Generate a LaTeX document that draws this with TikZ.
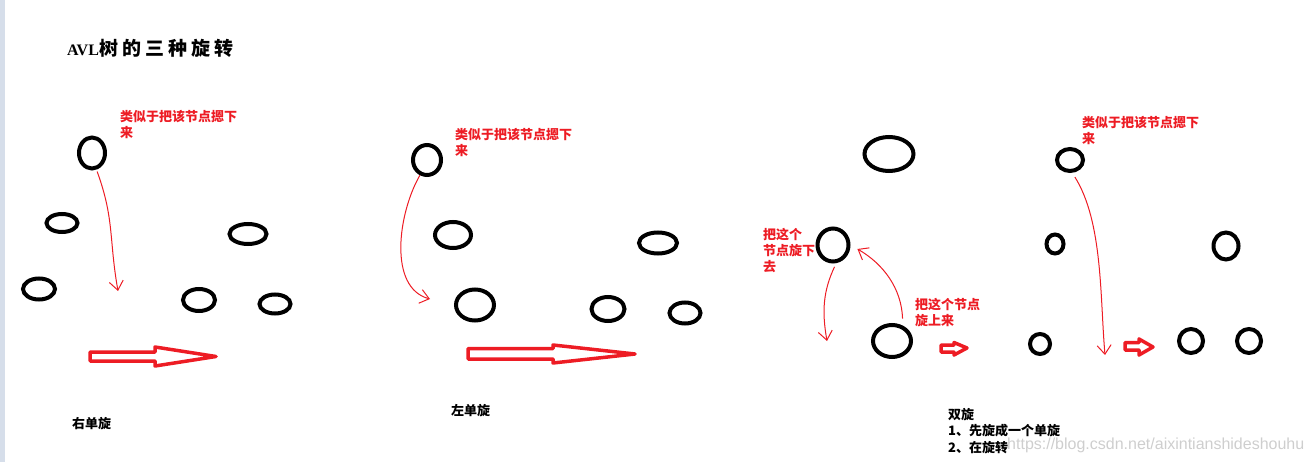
\documentclass[tikz,border=0pt]{standalone}
\usepackage{fontspec}
\setmainfont{Liberation Serif}
\newfontfamily\cjk{Noto Sans CJK SC}
\newfontfamily\urlfont{Liberation Sans}
\usepackage{xcolor}
\definecolor{paintred}{RGB}{237,28,36}
\definecolor{stripgrey}{RGB}{214,222,234}
\definecolor{markgrey}{RGB}{206,206,206}
\usepackage{tikz}
\usetikzlibrary{arrows.meta,shapes.geometric}

\begin{document}
\begin{tikzpicture}
[	x=1pt, y=-1pt,
	treenode/.style={draw, ellipse, line width=4pt, inner sep=0pt},
	redline/.style={draw=paintred, line width=1pt, -{Straight Barb[length=9pt,width=14pt]}},
	hollowarrow/.style={draw=paintred, line width=3.5pt, line join=round},
	redtext/.style={text=paintred, font=\cjk\bfseries\fontsize{13}{16}\selectfont, align=left, inner sep=0pt, anchor=north west},
	blacktext/.style={font=\cjk\bfseries\fontsize{13}{16.5}\selectfont, align=left, inner sep=0pt, anchor=north west}
]
\useasboundingbox (0,0) rectangle (1311,462);
\fill[stripgrey] (0,0) rectangle (5,462);

% title
\node(title)[anchor=base west, inner sep=0pt] at (67,56){\fontsize{16}{18}\selectfont\bfseries AVL\kern1pt{\cjk\fontsize{19}{21}\selectfont 树\kern4pt 的\kern4pt 三\kern4pt 种\kern4pt 旋\kern4pt 转}};

% right rotation, before
\node(a1)[treenode, minimum width=26pt, minimum height=31pt] at (92,153){};
\node(a2)[treenode, minimum width=31pt, minimum height=18pt] at (62,223){};
\node(a3)[treenode, minimum width=32pt, minimum height=21pt] at (39,289){};
% right rotation, after
\node(b1)[treenode, minimum width=37pt, minimum height=20pt] at (248,234){};
\node(b2)[treenode, minimum width=32pt, minimum height=22pt] at (199,300){};
\node(b3)[treenode, minimum width=31pt, minimum height=19pt] at (275,304){};

\coordinate(k1) at (118,291);
\node(t1)[redtext] at (120,110){类似于把该节点摁下\\来};
\draw[redline, shorten <=2pt] (a1.-75) to[out=-70,in=100,looseness=1.1] (k1);

\draw[hollowarrow] (90,352) -- (155,352) -- (155,347) -- (216,356.5) -- (155,366) -- (155,361) -- (90,361) -- cycle;
\node(l1)[blacktext] at (72,417){右单旋};

% left rotation, before
\node(c1)[treenode, minimum width=28pt, minimum height=30pt] at (427,160){};
\node(c2)[treenode, minimum width=36pt, minimum height=26pt] at (453,235){};
\node(c3)[treenode, minimum width=38pt, minimum height=31pt] at (475,305){};
% left rotation, after
\node(d1)[treenode, minimum width=38pt, minimum height=21pt] at (658,243){};
\node(d2)[treenode, minimum width=33pt, minimum height=24pt] at (608,309){};
\node(d3)[treenode, minimum width=31pt, minimum height=21pt] at (685,313){};

\coordinate(k2) at (430,299);
\node(t2)[redtext] at (455,128){类似于把该节点摁下\\来};
\draw[redline] (c1.-115) to[out=-120,in=165,looseness=0.9] (k2);

\draw[hollowarrow] (468,348.5) -- (553,348.5) -- (553,345) -- (635,354) -- (553,363) -- (553,359) -- (468,359) -- cycle;
\node(l2)[blacktext] at (451,404){左单旋};

% double rotation, first step
\node(e1)[treenode, minimum width=49pt, minimum height=34pt] at (889,154){};
\node(e2)[treenode, minimum width=31pt, minimum height=33pt] at (833,245){};
\node(e3)[treenode, minimum width=38pt, minimum height=32pt] at (892,341){};

\coordinate(k3) at (827,341);
\node(t3)[redtext] at (763,228){把这个\\节点旋下\\去};
\node(t4)[redtext] at (915,298){把这个节点\\旋上来};
\draw[redline, shorten <=4pt] (e2.-80) to[out=-115,in=100] (k3);
\draw[redline, shorten <=7pt, shorten >=8pt] (e3.55) to[out=92,in=-30] (e2.east);

\draw[hollowarrow] (941,345) -- (954,345) -- (954,342.5) -- (967,348) -- (954,355) -- (954,352) -- (941,352) -- cycle;

% double rotation, second step
\node(f1)[treenode, minimum width=26pt, minimum height=22pt] at (1070,160){};
\node(f2)[treenode, minimum width=17pt, minimum height=19pt] at (1055,244){};
\node(f3)[treenode, minimum width=20pt, minimum height=20pt] at (1040,344){};
\node(g1)[treenode, minimum width=25pt, minimum height=27pt] at (1226,246){};
\node(g2)[treenode, minimum width=24pt, minimum height=24pt] at (1191,341){};
\node(g3)[treenode, minimum width=24pt, minimum height=24pt] at (1249,341){};

\coordinate(k4) at (1105,355);
\node(t5)[redtext] at (1082,116){类似于把该节点摁下\\来};
\draw[redline, shorten <=5pt] (f1.-80) to[out=-58,in=95,looseness=0.8] (k4);

\draw[hollowarrow] (1125,342.5) -- (1139,342.5) -- (1139,339) -- (1153,347) -- (1139,355) -- (1139,350) -- (1125,350) -- cycle;

\node(l3)[blacktext] at (948,408){双旋\\1、先旋成一个单旋\\2、在旋转};

\node(mark)[anchor=base west, inner sep=0pt, text=markgrey, font=\urlfont\fontsize{16}{18}\selectfont] at (1007,449){https://blog.csdn.net/aixintianshideshouhu};
\end{tikzpicture}
\end{document}
